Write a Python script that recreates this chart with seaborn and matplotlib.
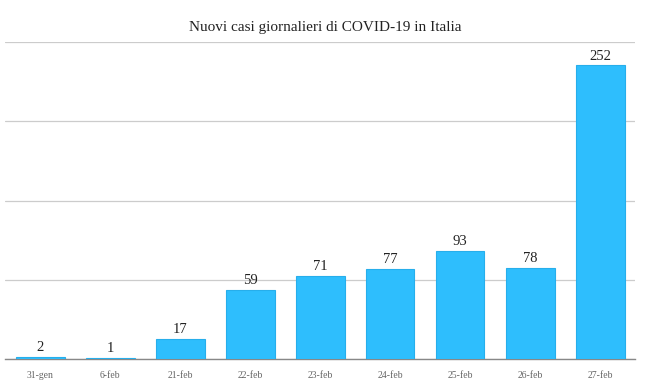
import matplotlib
matplotlib.use("Agg")
from matplotlib import pyplot as plt
import seaborn as sns
import pandas as pd
import numpy as np

# Data
dates = ["31-gen", "6-feb", "21-feb", "22-feb", "23-feb", "24-feb", "25-feb", "26-feb", "27-feb"]
new_cases = [2, 1, 17, 59, 71, 77, 93, 78, 252]

df = pd.DataFrame({"data": dates, "casi": new_cases})

sns.set_theme(style="white")
plt.rcParams['font.family'] = ['Liberation Serif', 'DejaVu Serif']

fig = plt.figure(figsize=(6.5, 3.89), dpi=100)
ax = fig.add_axes([5 / 650, 1 - 359 / 389, 630 / 650, 317 / 389])

sns.barplot(data=df, x="data", y="casi", color="#2EBEFD", saturation=1,
            width=0.7, edgecolor="#27AEEB", linewidth=0.8, ax=ax, zorder=3)

ax.set_ylim(0, 272)
ax.set_xlim(-0.5, len(dates) - 0.5)
ax.set_yticks(np.arange(0, 273, 68))
ax.yaxis.grid(True, color="#cccccc", linewidth=0.9, zorder=0)
ax.tick_params(axis="y", left=False, labelleft=False)
ax.tick_params(axis="x", bottom=False, labelsize=7, labelcolor="#666666", pad=3)
for side in ["top", "left", "right"]:
    ax.spines[side].set_visible(False)
ax.spines["bottom"].set_color("#888888")
ax.spines["bottom"].set_linewidth(1.0)
ax.set_xlabel("")
ax.set_ylabel("")

for c in ax.containers:
    ax.bar_label(c, labels=[str(v) for v in new_cases], padding=2, fontsize=10.5, color="#222222")

fig.text(0.5, 1 - 27 / 389, "Nuovi casi giornalieri di COVID-19 in Italia",
         ha="center", va="center", fontsize=11, color="#222222")

fig.savefig("out.png", dpi=100)
